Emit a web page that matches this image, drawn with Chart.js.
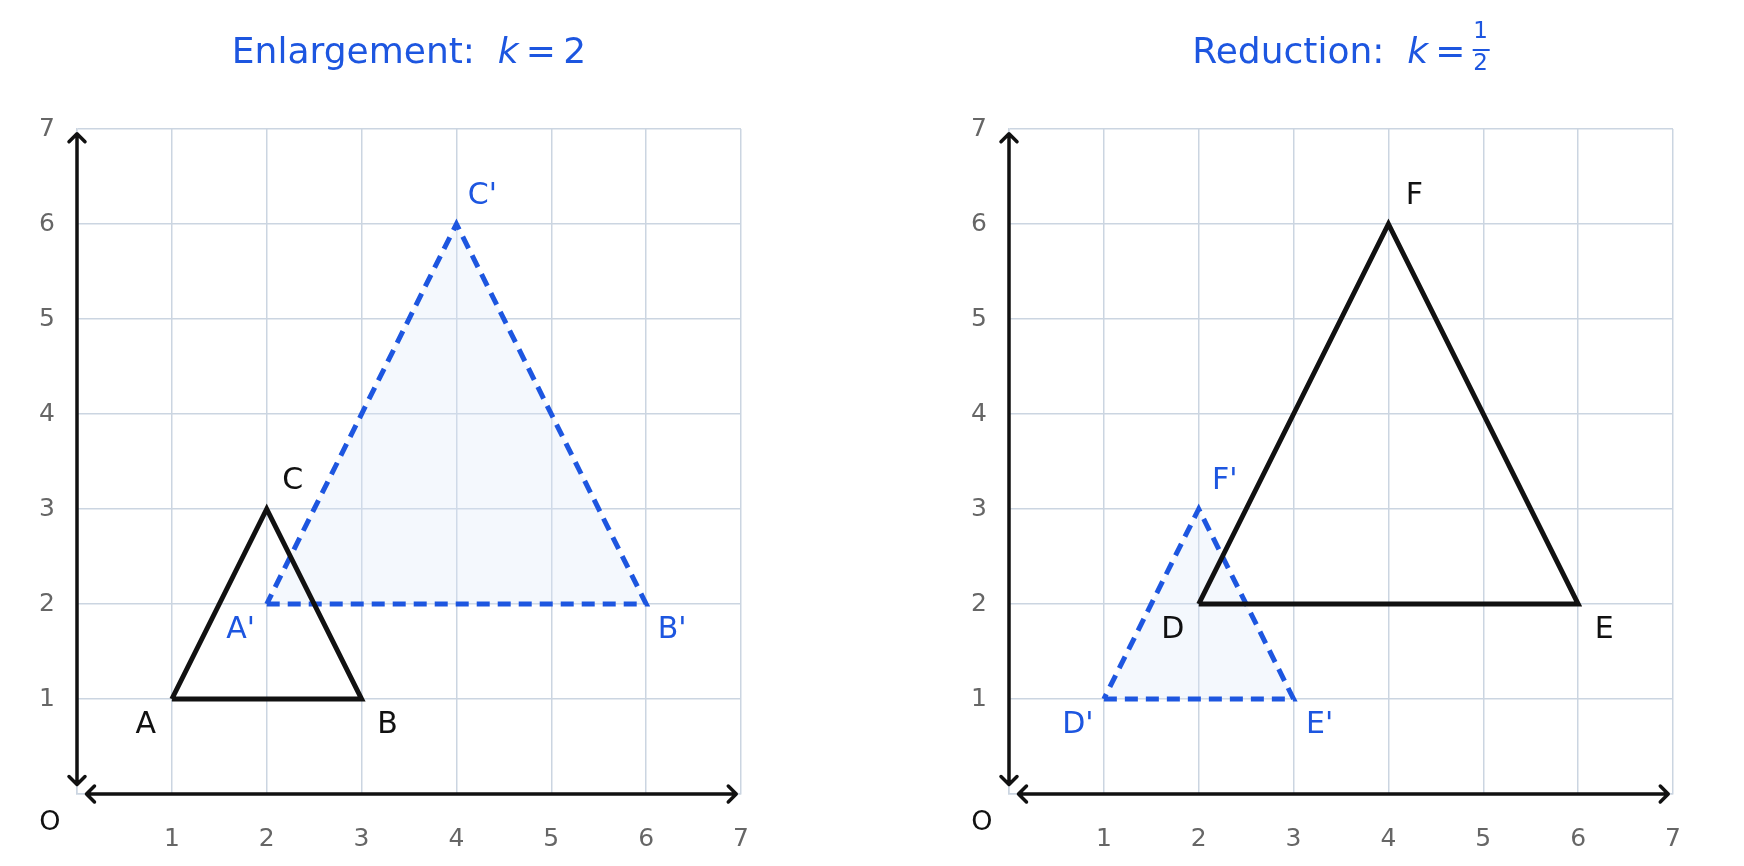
<!DOCTYPE html>
<html><head><meta charset="utf-8">
<script src="https://cdn.jsdelivr.net/npm/chart.js@4"></script>
<style>body{margin:0;background:#fff;width:1744px;height:866px;overflow:hidden;font-family:"DejaVu Sans"}
.c{position:absolute;top:0;width:872px;height:866px}</style></head><body>
<div class="c" style="left:0"><canvas id="c1"></canvas></div>
<div class="c" style="left:932px"><canvas id="c2"></canvas></div>
<script>
const ticks=[0,1,2,3,4,5,6,7];
const triABC=[[1,1],[3,1],[2,3]], labABC=["A","B","C"];
const triAp=[[2,2],[6,2],[4,6]], labAp=["A'","B'","C'"];
const triDEF=[[2,2],[6,2],[4,6]], labDEF=["D","E","F"];
const triDp=[[1,1],[3,1],[2,3]], labDp=["D'","E'","F'"];
const BLUE='#1d56e0', BLACK='#111111', GRID='#cbd5e1';
const offs=[[-26,26],[26,26],[26,-28]];
function pts(t){const a=t.map(p=>({x:p[0],y:p[1]}));a.push(a[0]);return a;}
function make(id,title,solid,solidLab,dashed,dashedLab){
 const plug={id:'p',
  beforeDatasetsDraw(ch){const {ctx,scales:{x,y}}=ch;ctx.save();ctx.fillStyle='rgba(220,232,248,0.3)';ctx.beginPath();
   dashed.forEach((p,i)=>{const px=x.getPixelForValue(p[0]),py=y.getPixelForValue(p[1]);i?ctx.lineTo(px,py):ctx.moveTo(px,py);});ctx.closePath();ctx.fill();
   ctx.strokeStyle=BLACK;ctx.lineWidth=3.5;ctx.lineCap='round';ctx.lineJoin='round';
   const x0=x.getPixelForValue(0),y0=y.getPixelForValue(0),x1=x.getPixelForValue(0.1),x7=x.getPixelForValue(6.95),y1=y.getPixelForValue(0.1),y7=y.getPixelForValue(6.95);
   const a=8;ctx.beginPath();
   ctx.moveTo(x1,y0);ctx.lineTo(x7,y0);
   ctx.moveTo(x1+a,y0-a);ctx.lineTo(x1,y0);ctx.lineTo(x1+a,y0+a);
   ctx.moveTo(x7-a,y0-a);ctx.lineTo(x7,y0);ctx.lineTo(x7-a,y0+a);
   ctx.moveTo(x0,y1);ctx.lineTo(x0,y7);
   ctx.moveTo(x0-a,y1-a);ctx.lineTo(x0,y1);ctx.lineTo(x0+a,y1-a);
   ctx.moveTo(x0-a,y7+a);ctx.lineTo(x0,y7);ctx.lineTo(x0+a,y7+a);
   ctx.stroke();ctx.restore();},
  afterDatasetsDraw(ch){const {ctx,scales:{x,y}}=ch;ctx.save();ctx.font='30px "DejaVu Sans"';ctx.textAlign='center';ctx.textBaseline='middle';
   const lab=(t,l,c)=>{ctx.fillStyle=c;t.forEach((p,i)=>ctx.fillText(l[i],x.getPixelForValue(p[0])+offs[i][0],y.getPixelForValue(p[1])+offs[i][1]));};
   lab(solid,solidLab,BLACK);lab(dashed,dashedLab,BLUE);
   ctx.fillStyle=BLACK;ctx.font='27px "DejaVu Sans"';ctx.fillText('O',x.getPixelForValue(0)-27,y.getPixelForValue(0)+29);
   ctx.fillStyle=BLUE;ctx.textBaseline='alphabetic';ctx.textAlign='left';
   const F='36px "DejaVu Sans"',FI='italic 36px "DejaVu Sans"';
   const cx=(x.left+x.right)/2;const parts=title;const eq='\u2009=\u2009';
   ctx.font=F;const w1=ctx.measureText(parts[0]).width;ctx.font=FI;const w2=ctx.measureText('k').width;ctx.font=F;const w3=ctx.measureText(eq).width;
   const w4=parts[1]==='frac'?17:ctx.measureText(parts[1]).width;
   let sx=cx-(w1+w2+w3+w4)/2,by=63;
   ctx.font=F;ctx.fillText(parts[0],sx,by);sx+=w1;
   ctx.font=FI;ctx.fillText('k',sx,by);sx+=w2;
   ctx.font=F;ctx.fillText(eq,sx,by);sx+=w3;
   if(parts[1]==='frac'){ctx.font='23px "DejaVu Sans"';ctx.textAlign='center';ctx.fillText('1',sx+8,38);ctx.fillText('2',sx+8,70);ctx.fillRect(sx,49,17,2);}
   else ctx.fillText(parts[1],sx,by);
   ctx.restore();}};
 new Chart(document.getElementById(id),{type:'scatter',
  data:{datasets:[
   {data:pts(solid),showLine:true,borderColor:BLACK,borderWidth:5,pointRadius:0,tension:0,fill:false},
   {data:pts(dashed),showLine:true,borderColor:BLUE,borderWidth:5,borderDash:[13,8],pointRadius:0,tension:0,fill:false}]},
  options:{responsive:true,maintainAspectRatio:false,animation:false,
   layout:{padding:{top:129,right:131,left:0,bottom:0}},
   plugins:{legend:{display:false},tooltip:{enabled:false}},
   scales:{
    x:{type:'linear',min:0,max:7,afterBuildTicks:s=>{s.ticks=ticks.map(v=>({value:v}));},
     afterFit:s=>{s.height=72;},
     grid:{color:GRID,lineWidth:1.5,drawTicks:false},border:{color:GRID,width:1.5},
     ticks:{padding:30,color:'#666',font:{size:25,family:'DejaVu Sans'},callback:v=>v===0?'':String(v),maxRotation:0}},
    y:{type:'linear',min:0,max:7,afterBuildTicks:s=>{s.ticks=ticks.map(v=>({value:v}));},
     afterFit:s=>{s.width=77;},
     grid:{color:GRID,lineWidth:1.5,drawTicks:false},border:{color:GRID,width:1.5},
     ticks:{padding:22,color:'#666',font:{size:25,family:'DejaVu Sans'},callback:v=>v===0?'':String(v)}}}},
  plugins:[plug]});
}
make('c1',['Enlargement:  ','2'],triABC,labABC,triAp,labAp);
make('c2',['Reduction:  ','frac'],triDEF,labDEF,triDp,labDp);
</script></body></html>
